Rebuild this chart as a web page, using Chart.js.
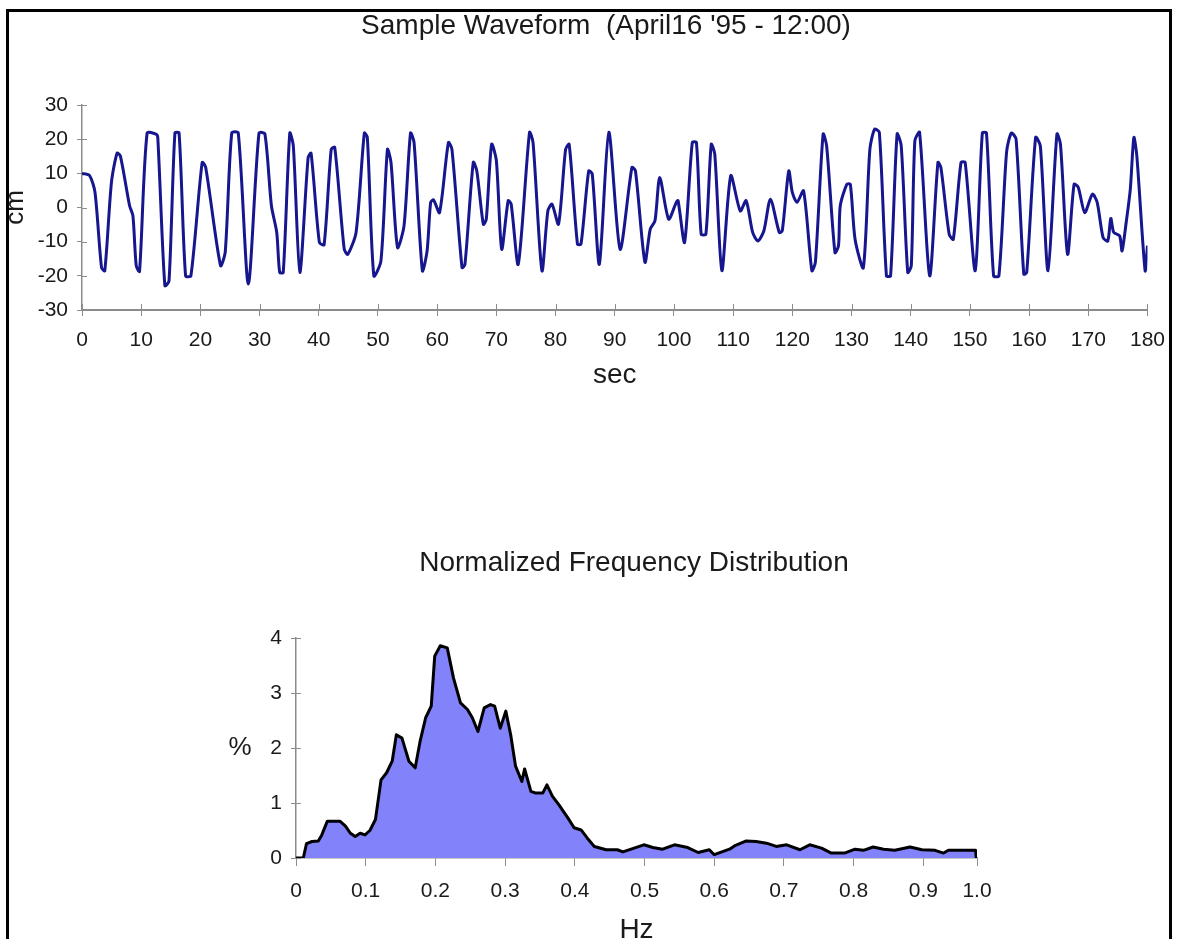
<!DOCTYPE html>
<html>
<head>
<meta charset="utf-8">
<title>Sample Waveform</title>
<script src="https://cdn.jsdelivr.net/npm/chart.js@4.4.1/dist/chart.umd.min.js"></script>
<style>
  html, body { margin: 0; padding: 0; background: #fff; }
  body { width: 1177px; height: 939px; position: relative; overflow: hidden; }
  #frame { position: absolute; left: 6px; top: 9px; width: 1166px; height: 1000px;
           border: 3px solid #000; box-sizing: border-box; }
  canvas { position: absolute; left: 0; }
  #wave { top: 0; }
  #freq { top: 420px; }
</style>
</head>
<body>
<div id="frame"></div>
<canvas id="wave" width="1177" height="420"></canvas>
<canvas id="freq" width="1177" height="540"></canvas>
<script>
// ---- top chart: wave height (cm) against time (sec)
const waveSec = [0, 1.3, 2.2, 3.3, 3.85, 4.97, 5.92, 6.48, 8.04, 8.6, 9.16, 9.72, 11.0, 12.5, 12.8, 14.0, 14.7, 15.7, 16.4, 17.5,
  18.4, 20.3, 20.9, 23.4, 24.2, 25.3, 26.4, 28.1, 29.9, 30.9, 32.0, 32.9, 33.4, 34.0, 35.1, 35.7, 36.8, 38.2, 38.7, 40.1,
  40.9, 42.1, 42.7, 44.3, 44.9, 46.3, 47.7, 48.2, 49.3, 50.5, 51.6, 52.2, 53.3, 54.4, 55.5, 56.1, 57.5, 58.3, 58.9, 59.4,
  60.4, 61.9, 62.5, 64.2, 64.7, 66.1, 66.7, 67.8, 68.3, 69.2, 70.0, 70.9, 72.0, 72.5, 73.7, 75.6, 76.2, 77.7, 78.7, 79.4,
  80.5, 81.7, 82.3, 83.7, 84.3, 85.6, 86.2, 87.4, 89.0, 90.9, 92.9, 93.5, 95.1, 96.0, 96.8, 97.6, 99.1, 100.4, 100.7, 101.8,
  103.1, 103.8, 104.6, 105.4, 106.3, 106.9, 108.1, 109.6, 111.2, 112.2, 113.3, 114.2, 115.2, 116.3, 117.8, 118.3, 119.4, 120.0, 120.8, 121.9,
  123.3, 123.9, 125.2, 125.8, 127.2, 127.8, 128.1, 129.2, 129.8, 130.6, 132.0, 133.1, 133.9, 134.7, 135.9, 136.6, 137.7, 138.4, 139.5, 140.1,
  140.7, 141.5, 143.2, 144.6, 145.1, 146.5, 147.2, 148.5, 149.2, 150.9, 152.1, 152.8, 154.0, 154.9, 156.2, 157.0, 157.8, 159.1, 159.6, 161.1,
  161.9, 163.2, 164.7, 165.3, 166.5, 167.6, 168.3, 169.4, 170.7, 171.5, 172.5, 173.3, 173.8, 174.3, 175.3, 175.7, 176.4, 177.1, 177.7, 178.2,
  179.6, 180];
const waveCm = [10, 9.3, 4.4, -17.6, -18.5, 7.3, 15.9, 15.1, 0.5, -2.4, -17, -18.7, 21.8, 21.5, 20.5, -22.9, -21.5, 21.8, 21.8, -20,
  -20, 13.2, 11.7, -17, -13, 21.8, 21.8, -22.4, 21.8, 21.5, 0.5, -7.3, -19, -19, 21.8, 18, -19, 14.6, 15.9, -10.2,
  -10.9, 17, 17.6, -12.2, -13.7, -7.3, 21.8, 20.5, -20, -15.6, 17, 13.2, -11.7, -5.4, 21.8, 19, -18.5, -12.7, 1.5, 2.2,
  -1.5, 19, 17, -17.6, -16.6, 13.2, 10.7, -4.9, -3.4, 18.5, 13.7, -12.2, 2, 1, -16.6, 22, 19, -18.5, -1, 1,
  -4.9, 17, 18.5, -10.7, -10.7, 10.7, 9.8, -16.6, 22, -12.2, 11.7, 10.7, -16, -6.3, -3.9, 8.8, -3.4, 1.5, 2, -10.2,
  19, 19, -7.8, -7.8, 18.5, 15.6, -18.5, 9.3, -1, 2, -7.3, -9.8, -6.8, 2.4, -7.3, -6.8, 10.7, 4.4, 1.5, 4.9,
  -18.5, -16, 21.5, 18, -13.2, -11.2, 0.5, 6.8, 6.8, -9.3, -17.6, 17, 22.9, 22, -20, -20, 21.5, 18, -19, -17,
  19.5, 22, -20, 13.2, 11.7, -7.8, -9.3, 13.2, 13.2, -18.5, 21.8, 21.8, -20, -20, 16.3, 21.8, 20, -19.5, -19, 20.5,
  18, -18.5, 21.5, 18.5, -13.7, 6.8, 5.9, -1.5, 3.9, 1.5, -8.8, -9.8, -3.2, -7.3, -8.3, -12.7, -4.4, 5.4, 20.5, 15.1,
  -18.5, -11.2];
const secTicks = [0, 10, 20, 30, 40, 50, 60, 70, 80, 90, 100, 110, 120, 130, 140, 150, 160, 170, 180];
const cmTicks = [-30, -20, -10, 0, 10, 20, 30];

// ---- bottom chart: normalized frequency distribution (%)
const freqHz = [0, 0.0105, 0.015, 0.023, 0.032, 0.037, 0.045, 0.063, 0.071, 0.078, 0.085, 0.092, 0.099, 0.106, 0.114, 0.122,
  0.130, 0.138, 0.144, 0.152, 0.162, 0.171, 0.178, 0.186, 0.194, 0.199, 0.207, 0.217, 0.226, 0.236, 0.246, 0.253,
  0.261, 0.270, 0.279, 0.285, 0.293, 0.301, 0.308, 0.315, 0.324, 0.328, 0.337, 0.344, 0.354, 0.360, 0.368, 0.377,
  0.390, 0.399, 0.409, 0.418, 0.428, 0.445, 0.461, 0.469, 0.485, 0.499, 0.512, 0.526, 0.543, 0.562, 0.577, 0.593,
  0.600, 0.613, 0.622, 0.629, 0.646, 0.660, 0.675, 0.689, 0.704, 0.723, 0.737, 0.754, 0.768, 0.787, 0.802, 0.814,
  0.828, 0.843, 0.859, 0.881, 0.898, 0.917, 0.929, 0.936, 0.975, 0.976];
const freqPct = [0, 0, 0.26, 0.30, 0.31, 0.42, 0.67, 0.67, 0.58, 0.45, 0.39, 0.45, 0.42, 0.50, 0.70, 1.42,
  1.55, 1.76, 2.24, 2.18, 1.76, 1.64, 2.12, 2.55, 2.76, 3.67, 3.86, 3.82, 3.27, 2.82, 2.70, 2.55,
  2.30, 2.73, 2.79, 2.76, 2.36, 2.67, 2.24, 1.67, 1.39, 1.62, 1.21, 1.18, 1.18, 1.33, 1.12, 0.97,
  0.73, 0.55, 0.51, 0.36, 0.21, 0.15, 0.15, 0.11, 0.18, 0.24, 0.19, 0.16, 0.24, 0.19, 0.10, 0.15,
  0.06, 0.12, 0.16, 0.22, 0.31, 0.30, 0.27, 0.21, 0.24, 0.15, 0.24, 0.18, 0.09, 0.09, 0.16, 0.14,
  0.20, 0.16, 0.14, 0.20, 0.15, 0.14, 0.09, 0.14, 0.14, 0];
const hzTickValues = [0, 0.1, 0.2, 0.3, 0.4, 0.5, 0.6, 0.7, 0.8, 0.9, 0.977];
const hzTickLabels = ['0', '0.1', '0.2', '0.3', '0.4', '0.5', '0.6', '0.7', '0.8', '0.9', '1.0'];
const pctTicks = [0, 1, 2, 3, 4];

const FONT = '"Liberation Sans", Arial, sans-serif';
const INK = '#1a1a1a';
const AXIS = '#8c8c8c';

// text that is not tied to an axis box (chart titles, the flat "%" label)
function freeText(items) {
  return {
    id: 'freeText',
    afterDraw(chart) {
      const ctx = chart.ctx;
      items.forEach(it => {
        ctx.save();
        ctx.font = it.size + 'px ' + FONT;
        ctx.fillStyle = INK;
        ctx.textAlign = 'center';
        ctx.textBaseline = 'middle';
        ctx.fillText(it.text, it.x, it.y);
        ctx.restore();
      });
    }
  };
}

// the old chart has tick marks that poke into the plot as well
function innerTicks(lenX, lenY) {
  return {
    id: 'innerTicks',
    beforeDatasetsDraw(chart) {
      const {ctx, chartArea, scales} = chart;
      ctx.save();
      ctx.strokeStyle = AXIS;
      ctx.lineWidth = 1;
      ctx.beginPath();
      if (lenX) scales.x.ticks.forEach(t => {
        const px = Math.round(scales.x.getPixelForValue(t.value)) + 0.5;
        ctx.moveTo(px, chartArea.bottom);
        ctx.lineTo(px, chartArea.bottom - lenX);
      });
      if (lenY) scales.y.ticks.forEach(t => {
        const py = Math.round(scales.y.getPixelForValue(t.value)) + 0.5;
        ctx.moveTo(chartArea.left, py);
        ctx.lineTo(chartArea.left + lenY, py);
      });
      ctx.stroke();
      ctx.restore();
    }
  };
}

const tickGrid = (len) => ({ drawOnChartArea: false, drawTicks: true, tickLength: len, tickColor: AXIS, tickWidth: 1 });

new Chart(document.getElementById('wave'), {
  type: 'line',
  data: {
    datasets: [{
      data: waveSec.map((s, i) => ({x: s, y: waveCm[i]})),
      borderColor: '#16168f',
      borderWidth: 3,
      borderJoinStyle: 'round',
      pointRadius: 0,
      tension: 0.25,
      fill: false
    }]
  },
  options: {
    responsive: false,
    animation: false,
    devicePixelRatio: 1,
    layout: { padding: { left: 0, right: 20, top: 105, bottom: 0 } },
    plugins: { legend: { display: false }, tooltip: { enabled: false } },
    scales: {
      x: {
        type: 'linear', min: 0, max: 180,
        afterBuildTicks: s => { s.ticks = secTicks.map(v => ({value: v})); },
        afterFit: s => { s.height = 110; },
        grid: tickGrid(6),
        border: { color: AXIS, width: 2 },
        ticks: { color: INK, font: { family: FONT, size: 21 }, padding: 12, maxRotation: 0, autoSkip: false },
        title: { display: true, text: 'sec', color: INK, font: { family: FONT, size: 28 }, padding: { top: 0, bottom: 28 } }
      },
      y: {
        type: 'linear', min: -30, max: 30,
        afterBuildTicks: s => { s.ticks = cmTicks.map(v => ({value: v})); },
        afterFit: s => { s.width = 82; },
        grid: tickGrid(5),
        border: { color: AXIS, width: 1.5 },
        ticks: { color: INK, font: { family: FONT, size: 21 }, padding: 9 },
        title: { display: true, text: 'cm', color: INK, font: { family: FONT, size: 26 }, padding: { top: 0, bottom: 0 } }
      }
    }
  },
  plugins: [innerTicks(6, 5), freeText([{ text: "Sample Waveform  (April16 '95 - 12:00)", x: 606, y: 26, size: 28 }])]
});

new Chart(document.getElementById('freq'), {
  type: 'line',
  data: {
    datasets: [{
      data: freqHz.map((f, i) => ({x: f, y: freqPct[i]})),
      borderColor: '#000',
      backgroundColor: '#8282fa',
      borderWidth: 3,
      borderJoinStyle: 'round',
      pointRadius: 0,
      tension: 0,
      fill: 'origin'
    }]
  },
  options: {
    responsive: false,
    animation: false,
    devicePixelRatio: 1,
    layout: { padding: { left: 0, right: 200, top: 218, bottom: 0 } },
    plugins: { legend: { display: false }, tooltip: { enabled: false } },
    scales: {
      x: {
        type: 'linear', min: 0, max: 0.977,
        afterBuildTicks: s => { s.ticks = hzTickValues.map(v => ({value: v})); },
        afterFit: s => { s.height = 102; },
        grid: tickGrid(8),
        border: { color: AXIS, width: 1.5 },
        ticks: { color: INK, font: { family: FONT, size: 21 }, padding: 13, maxRotation: 0, autoSkip: false,
                 callback: (v, i) => hzTickLabels[i] },
        title: { display: true, text: 'Hz', color: INK, font: { family: FONT, size: 28 }, padding: { top: 0, bottom: 13 } }
      },
      y: {
        type: 'linear', min: 0, max: 4,
        afterBuildTicks: s => { s.ticks = pctTicks.map(v => ({value: v})); },
        afterFit: s => { s.width = 296; },
        grid: tickGrid(5),
        border: { color: AXIS, width: 1.5 },
        ticks: { color: INK, font: { family: FONT, size: 21 }, padding: 9 }
      }
    }
  },
  plugins: [innerTicks(0, 5), freeText([
    { text: 'Normalized Frequency Distribution', x: 634, y: 143, size: 28 },
    { text: '%', x: 240, y: 328, size: 26 }
  ])]
});
</script>
</body>
</html>
